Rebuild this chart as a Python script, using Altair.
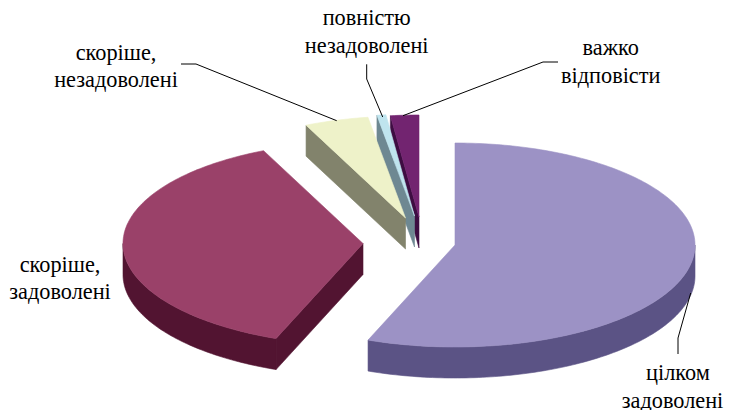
import math
import altair as alt
import pandas as pd

# Data (percent of answers)
categories = ["цілком задоволені", "скоріше, задоволені", "скоріше, незадоволені",
              "повністю незадоволені", "важко відповісти"]
shares = [55.9, 37.3, 4.3, 0.6, 1.9]

# Labels
label_lines = ["цілком", "задоволені", "скоріше,", "задоволені", "скоріше,", "незадоволені",
               "повністю", "незадоволені", "важко", "відповісти"]

# Styles
top_colors = ["#9C92C5", "#9A4169", "#EEF2C9", "#BFE4EE", "#722470"]
wall_colors = ["#5B5385", "#521431", "#82836C", "#6E8892", "#3E0D42"]

# Layout (page pixels)
label_x = [678, 672.5, 60, 60, 116, 116, 366.7, 366.7, 610.7, 610.7]
label_y = [380, 408, 272, 299, 60, 87, 25, 53, 55, 83]
apex_x = [455, 363, 405.5, 414.5, 419]
apex_y = [245, 243.5, 218, 216, 217]
RX, RY, DEPTH = 240, 102, 31
leader_x = [[690.7, 678, 678], [181, 196, 336.7], [366.7, 366.7, 382.7], [403, 543, 558]]
leader_y = [[293, 338, 354], [64, 64, 120.7], [64.3, 79, 117], [115.7, 62, 62]]

W, H = 716, 402
sx = alt.Scale(domain=[8, 8 + W], range=[0, W], nice=False, zero=False)
sy = alt.Scale(domain=[8, 8 + H], range=[0, H], nice=False, zero=False)


def pt(k, deg):
    a = math.radians(deg)
    return apex_x[k] + RX * math.sin(a), apex_y[k] - RY * math.cos(a)


def arc(k, a0, a1):
    n = max(2, int(abs(a1 - a0)) + 2)
    return [pt(k, a0 + (a1 - a0) * i / (n - 1)) for i in range(n)]


def poly(points, fill, stroke=None, sw=0.6):
    pts = list(points) + [points[0]]
    df = pd.DataFrame({"x": [p[0] for p in pts], "y": [p[1] for p in pts], "i": list(range(len(pts)))})
    return alt.Chart(df).mark_line(fill=fill, stroke=stroke or fill, strokeWidth=sw, interpolate="linear").encode(
        x=alt.X("x:Q", scale=sx, axis=None),
        y=alt.Y("y:Q", scale=sy, axis=None),
        order=alt.Order("i:Q"),
    )


edges = [0]
for s in shares:
    edges.append(edges[-1] + s * 360 / sum(shares))

layers = []
for k in [4, 3, 2, 1, 0]:
    a0, a1 = edges[k], edges[k + 1]
    apex = (apex_x[k], apex_y[k])
    # radial wall at the starting edge, facing the viewer on the left half
    if a0 > 180:
        e = pt(k, a0)
        layers.append(poly([apex, e, (e[0], e[1] + DEPTH), (apex[0], apex[1] + DEPTH)],
                           wall_colors[k], stroke=wall_colors[k]))
    # outer rim on the lower half of the ellipse
    r0, r1 = max(a0, 90), min(a1, 270)
    if r1 > r0:
        rim = arc(k, r0, r1)
        layers.append(poly(rim + [(p[0], p[1] + DEPTH) for p in reversed(rim)], wall_colors[k]))
    # top face
    layers.append(poly([apex] + arc(k, a0, a1), top_colors[k]))

for xs, ys in zip(leader_x, leader_y):
    df = pd.DataFrame({"x": xs, "y": ys, "i": range(len(xs))})
    layers.append(alt.Chart(df).mark_line(color="#000000", strokeWidth=1).encode(
        x=alt.X("x:Q", scale=sx, axis=None), y=alt.Y("y:Q", scale=sy, axis=None), order="i:Q"))

labels = pd.DataFrame({"x": label_x, "y": label_y, "t": label_lines})
layers.append(alt.Chart(labels).mark_text(font="Liberation Serif", fontSize=22.3, color="#000000",
                                          align="center", baseline="alphabetic").encode(
    x=alt.X("x:Q", scale=sx, axis=None), y=alt.Y("y:Q", scale=sy, axis=None), text="t:N"))

chart = alt.layer(*layers).properties(width=W, height=H, padding=0, autosize="none",
                                      background="#ffffff").configure_view(stroke=None)
chart.save("out.html", embed_options={"renderer": "svg", "actions": False})
